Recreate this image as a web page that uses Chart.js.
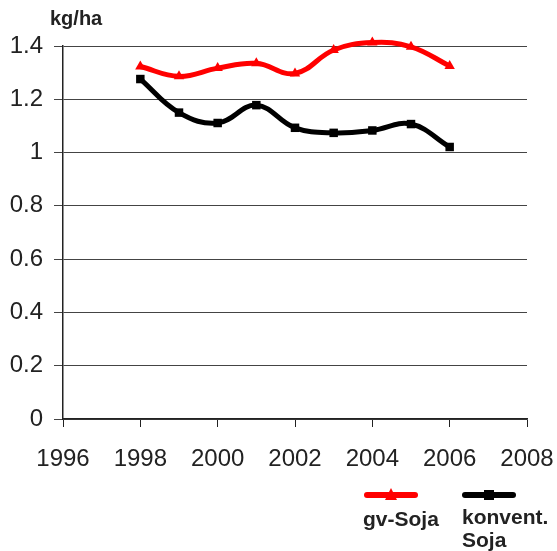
<!DOCTYPE html>
<html>
<head>
<meta charset="utf-8">
<script src="https://cdn.jsdelivr.net/npm/chart.js@4"></script>
<style>
  html, body { margin: 0; padding: 0; background: #fff; }
  #wrap { width: 557px; height: 551px; }
</style>
</head>
<body>
<div id="wrap"><canvas id="chart1"></canvas></div>
<script>
const years = [1998, 1999, 2000, 2001, 2002, 2003, 2004, 2005, 2006];
const gvSoja = [1.323, 1.286, 1.317, 1.335, 1.297, 1.385, 1.413, 1.397, 1.325];
const konventSoja = [1.276, 1.150, 1.111, 1.178, 1.093, 1.074, 1.083, 1.107, 1.021];
const xTicks = [1996, 1998, 2000, 2002, 2004, 2006, 2008];
const yTicks = [0, 0.2, 0.4, 0.6, 0.8, 1, 1.2, 1.4];
const seriesNames = ['gv-Soja', ['konvent.', 'Soja']];
const unitLabel = 'kg/ha';

const FONT = '"Liberation Sans", Arial, sans-serif';

// unit label top left + legend under the axis (line sample above the text)
const extras = {
  id: 'extras',
  afterDraw(chart) {
    const ctx = chart.ctx;
    const area = chart.chartArea;
    ctx.save();
    ctx.fillStyle = '#222';
    ctx.font = 'bold 20px ' + FONT;
    ctx.textBaseline = 'middle';
    ctx.textAlign = 'left';
    ctx.fillText(unitLabel, 50, 19);

    const items = [
      { ds: chart.data.datasets[0], cx: area.right - 136, tx: area.right - 164, ty: 25 },
      { ds: chart.data.datasets[1], cx: area.right - 38, tx: area.right - 65, ty: 23 }
    ];
    const ly = area.bottom + 76;
    items.forEach(it => {
      ctx.strokeStyle = it.ds.borderColor;
      ctx.lineWidth = 6;
      ctx.lineCap = 'round';
      ctx.beginPath();
      ctx.moveTo(it.cx - 24, ly);
      ctx.lineTo(it.cx + 24, ly);
      ctx.stroke();
      ctx.fillStyle = it.ds.borderColor;
      if (it.ds.pointStyle === 'triangle') {
        ctx.beginPath();
        ctx.moveTo(it.cx, ly - 7);
        ctx.lineTo(it.cx + 6, ly + 5);
        ctx.lineTo(it.cx - 6, ly + 5);
        ctx.closePath();
        ctx.fill();
      } else {
        ctx.fillRect(it.cx - 5, ly - 5, 10, 10);
      }
      ctx.fillStyle = '#222';
      ctx.font = 'bold 21px ' + FONT;
      const lines = [].concat(it.ds.label);
      lines.forEach((t, i) => ctx.fillText(t, it.tx, ly + it.ty + i * 23));
    });
    ctx.restore();
  }
};

const ctx = document.getElementById('chart1').getContext('2d');
const myChart = new Chart(ctx, {
  type: 'line',
  data: {
    datasets: [{
      label: seriesNames[0],
      data: years.map((y, i) => ({ x: y, y: gvSoja[i] })),
      borderColor: '#ff0000',
      backgroundColor: '#ff0000',
      borderWidth: 5,
      pointStyle: 'triangle',
      pointRadius: 6,
      pointBorderWidth: 0,
      tension: 0.4,
      clip: false
    }, {
      label: seriesNames[1],
      data: years.map((y, i) => ({ x: y, y: konventSoja[i] })),
      borderColor: '#000000',
      backgroundColor: '#000000',
      borderWidth: 5,
      pointStyle: 'rect',
      pointRadius: 6,
      pointBorderWidth: 0,
      tension: 0.4,
      clip: false
    }]
  },
  options: {
    responsive: true,
    maintainAspectRatio: false,
    animation: false,
    layout: { padding: { left: 10, right: 30, top: 46, bottom: 77 } },
    plugins: {
      legend: { display: false },
      tooltip: { enabled: false }
    },
    scales: {
      x: {
        type: 'linear',
        min: 1996,
        max: 2008,
        afterBuildTicks: scale => { scale.ticks = xTicks.map(v => ({ value: v })); },
        afterFit: scale => {
          scale.height = 55;
          scale.paddingLeft = 0;
          scale.paddingRight = 30;
        },
        grid: { drawOnChartArea: false, drawTicks: true, tickLength: 8, color: '#222' },
        border: { color: '#222', width: 1.5 },
        ticks: {
          color: '#222',
          padding: 18,
          maxRotation: 0,
          font: { family: FONT, size: 24 },
          callback: v => String(v)
        }
      },
      y: {
        min: 0,
        max: 1.4,
        afterBuildTicks: scale => { scale.ticks = yTicks.map(v => ({ value: v })); },
        afterFit: scale => { scale.width = 53; },
        grid: { color: '#444', tickLength: 9, drawTicks: true },
        border: { color: '#222', width: 1.5 },
        ticks: {
          color: '#222',
          padding: 11,
          font: { family: FONT, size: 24 },
          callback: v => String(+v.toFixed(1))
        }
      }
    }
  },
  plugins: [extras]
});
</script>
</body>
</html>
